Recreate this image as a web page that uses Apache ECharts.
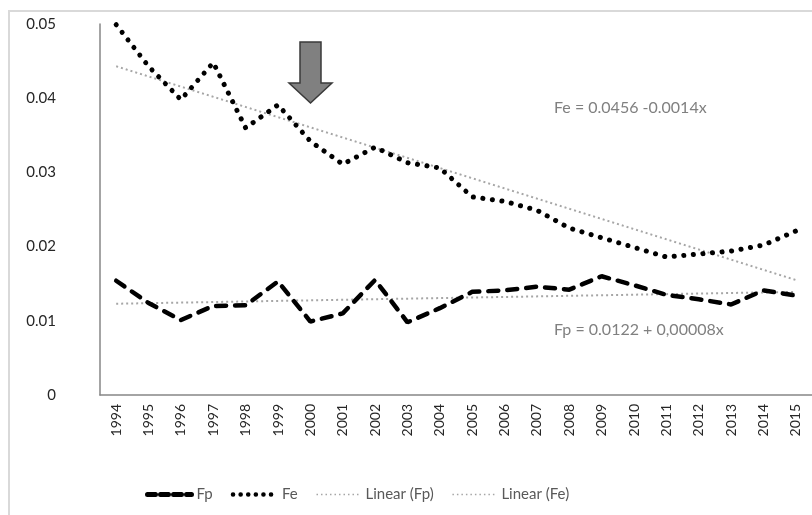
<!DOCTYPE html>
<html>
<head>
<meta charset="utf-8">
<script src="https://cdn.jsdelivr.net/npm/echarts@6/dist/echarts.min.js"></script>
<style>
  html, body { margin: 0; padding: 0; background: #fff; }
  #main { width: 812px; height: 515px; }
</style>
</head>
<body>
<div id="main"></div>
<script>
    var years = ['1994', '1995', '1996', '1997', '1998', '1999', '2000', '2001', '2002', '2003', '2004',
                 '2005', '2006', '2007', '2008', '2009', '2010', '2011', '2012', '2013', '2014', '2015'];
    var fp = [0.0154, 0.0124, 0.0101, 0.0120, 0.0121, 0.0153, 0.0099, 0.0110, 0.0155, 0.0098, 0.0117,
              0.0139, 0.0141, 0.0146, 0.0142, 0.0160, 0.0148, 0.0135, 0.0129, 0.0122, 0.0141, 0.0134];
    var fe = [0.0499, 0.0443, 0.0398, 0.0448, 0.0360, 0.0391, 0.0342, 0.0311, 0.0334, 0.0313, 0.0306,
              0.0267, 0.0261, 0.0249, 0.0225, 0.0212, 0.0199, 0.0186, 0.0190, 0.0194, 0.0202, 0.0221];
    // trend line ends, read at 1994 and 2015
    var fpTrend = [0.0123, 0.0139];
    var feTrend = [0.0443, 0.0155];
    var yTicks = [0, 0.01, 0.02, 0.03, 0.04, 0.05];

    var fontName = 'Lato, "Open Sans", sans-serif';
    var last = years.length - 1;

    var fpLine = { color: '#000', width: 4.5, type: [10, 9], cap: 'round' };
    var feLine = { color: '#000', width: 5, type: [0.1, 9.5], cap: 'round' };
    var trendLine = { color: '#a6a6a6', width: 2, type: [2, 3] };

    function trendData(ends) {
        return [[years[0], ends[0]], [years[last], ends[1]]];
    }

    var option = {
        animation: false,
        backgroundColor: '#fff',
        grid: { left: 100, top: 24, width: 718, bottom: 120 },
        legend: {
            data: [
                { name: 'Fp', lineStyle: { width: 5, type: [8, 5], cap: 'round' } },
                { name: 'Fe', lineStyle: { width: 4.5, type: [0.1, 7.5], cap: 'round' } },
                { name: 'Linear (Fp)', lineStyle: { width: 1.5, type: [1.5, 3] } },
                { name: 'Linear (Fe)', lineStyle: { width: 1.5, type: [1.5, 3] } }
            ],
            left: 140,
            top: 482,
            itemWidth: 44,
            itemHeight: 14,
            itemGap: 18,
            itemStyle: { opacity: 0 },
            textStyle: { color: '#595959', fontSize: 15, fontFamily: fontName }
        },
        xAxis: {
            type: 'category',
            data: years,
            boundaryGap: true,
            axisLine: { lineStyle: { color: '#868686', width: 1.5 } },
            axisTick: { show: false },
            axisLabel: { rotate: 90, color: '#262626', fontSize: 14, fontFamily: fontName, margin: 9 }
        },
        yAxis: {
            type: 'value',
            min: yTicks[0],
            max: yTicks[yTicks.length - 1],
            interval: 0.01,
            axisLine: { show: true, lineStyle: { color: '#868686', width: 1.5 } },
            axisTick: { show: false },
            splitLine: { show: false },
            axisLabel: { color: '#262626', fontSize: 15, fontFamily: fontName, margin: 44, align: 'right' }
        },
        series: [
            {
                name: 'Linear (Fp)', type: 'line', data: trendData(fpTrend), symbol: 'none', z: 1,
                itemStyle: { color: '#a6a6a6' }, lineStyle: trendLine
            },
            {
                name: 'Linear (Fe)', type: 'line', data: trendData(feTrend), symbol: 'none', z: 1,
                itemStyle: { color: '#a6a6a6' }, lineStyle: trendLine
            },
            {
                name: 'Fp', type: 'line', data: fp, symbol: 'none', z: 3,
                itemStyle: { color: '#000' }, lineStyle: fpLine
            },
            {
                name: 'Fe', type: 'line', data: fe, symbol: 'none', z: 3,
                itemStyle: { color: '#000' }, lineStyle: feLine
            }
        ],
        graphic: [
            {
                type: 'rect', silent: true, z: 0,
                shape: { x: 9, y: 11, width: 830, height: 530 },
                style: { fill: null, stroke: '#d9d9d9', lineWidth: 2 }
            },
            {
                type: 'polygon', silent: true, z: 10,
                shape: { points: [[300, 42], [321, 42], [321, 83], [332, 83], [310.5, 103], [289, 83], [300, 83]] },
                style: { fill: '#808080', stroke: '#3a3a3a', lineWidth: 1.5 }
            },
            {
                type: 'text', silent: true, z: 10, left: 554, top: 100,
                style: { text: 'Fe = 0.0456 -0.0014x', fill: '#808080', font: '16px ' + fontName }
            },
            {
                type: 'text', silent: true, z: 10, left: 554, top: 322,
                style: { text: 'Fp = 0.0122 + 0,00008x', fill: '#808080', font: '16px ' + fontName }
            }
        ]
    };

    var myChart = echarts.init(document.getElementById('main'));
    myChart.setOption(option);
</script>
</body>
</html>
